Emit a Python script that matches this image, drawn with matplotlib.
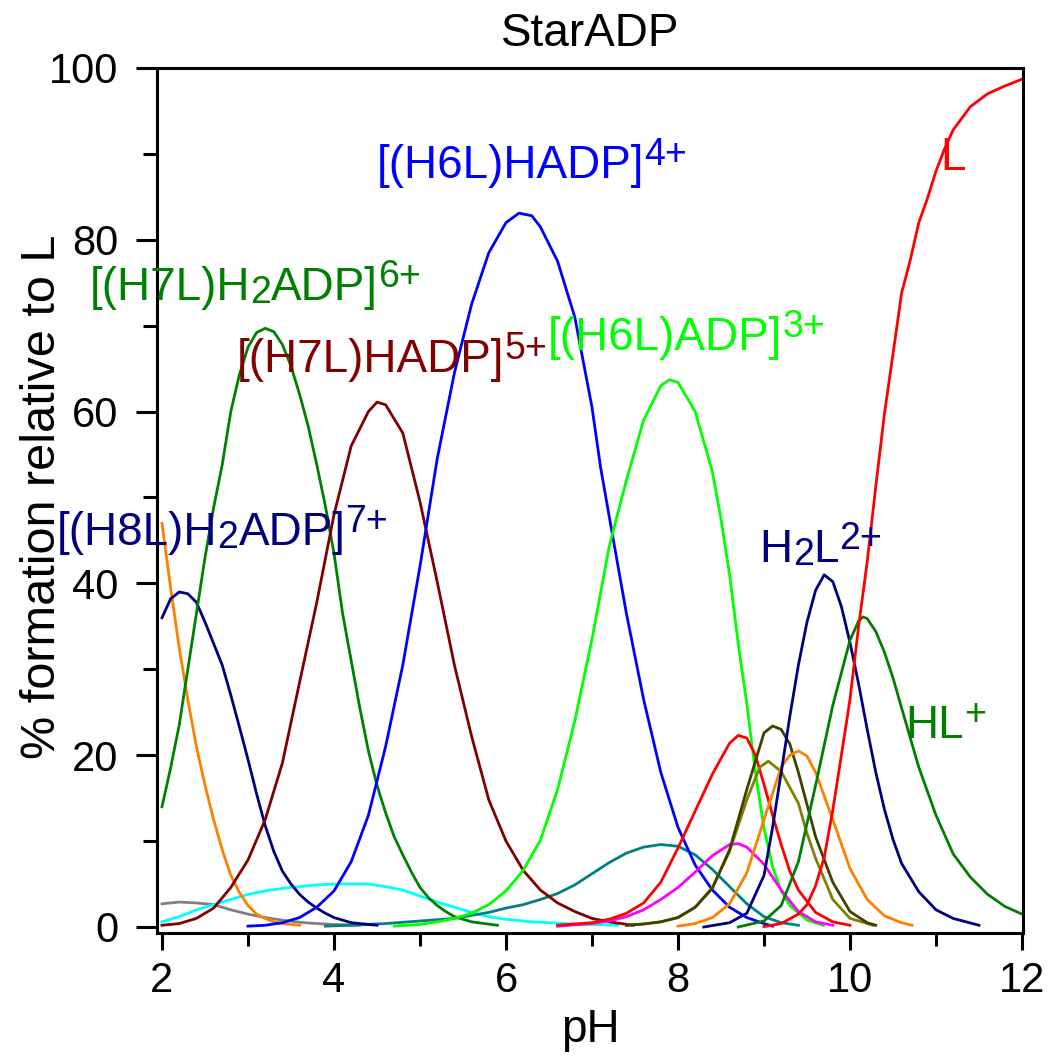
"""
StarADP species distribution — % formation relative to L vs pH
"""
import matplotlib
matplotlib.use('Agg')
import matplotlib.pyplot as plt
from matplotlib.ticker import MultipleLocator

plt.rcParams['font.family'] = ['Liberation Sans', 'DejaVu Sans']

# Species curves: pH, % formation
ph_orange1 = [2.0, 2.1, 2.2, 2.3, 2.4, 2.5, 2.6, 2.7, 2.8, 2.9, 3.0, 3.1, 3.2, 3.3, 3.4, 3.5, 3.6]
pct_orange1 = [47, 39.5, 32.5, 26.5, 21, 16.5, 12.5, 9, 6, 4, 2.5, 1.5, 1.0, 0.6, 0.4, 0.3, 0.2]

ph_navy1 = [2.0, 2.1, 2.2, 2.3, 2.4, 2.5, 2.6, 2.7, 2.8, 2.9, 3.0, 3.1, 3.2, 3.3, 3.4, 3.5,
            3.6, 3.7, 3.8, 3.9, 4.0, 4.2, 4.5]
pct_navy1 = [36, 38.2, 39, 38.8, 37.8, 35.5, 33, 30.5, 27, 23.3, 19.5, 15.5, 11.8, 8.8, 6.5, 5,
             3.8, 2.9, 2.2, 1.6, 1.1, 0.5, 0.2]

ph_green1 = [2.0, 2.1, 2.2, 2.3, 2.4, 2.5, 2.6, 2.7, 2.8, 2.9, 3.0, 3.1, 3.2, 3.3, 3.4, 3.5,
             3.6, 3.7, 3.8, 3.9, 4.0, 4.1, 4.2, 4.3, 4.4, 4.5, 4.6, 4.7, 4.8, 4.9, 5.0, 5.1,
             5.2, 5.3, 5.4, 5.6, 5.9]
pct_green1 = [14, 18.5, 23.5, 30, 36.5, 43, 48.8, 53.8, 60, 64.3, 67.5, 69.2, 69.7, 69.3, 67.8, 65.3,
              62, 58.3, 53.8, 49, 43.5, 36.5, 31, 25.5, 20.5, 16.5, 13.3, 10.5, 8.4, 6.4, 4.6, 3.4,
              2.5, 1.8, 1.2, 0.6, 0.2]

ph_gray = [2.0, 2.2, 2.4, 2.6, 2.8, 3.0, 3.2, 3.4, 3.6, 3.8, 4.0, 4.3]
pct_gray = [2.7, 2.9, 2.8, 2.6, 2.0, 1.5, 1.1, 0.8, 0.55, 0.4, 0.3, 0.2]

ph_cyan = [2.0, 2.2, 2.4, 2.6, 2.8, 3.0, 3.2, 3.4, 3.6, 3.8, 4.0, 4.2, 4.4, 4.6, 4.8, 5.0,
           5.2, 5.4, 5.6, 5.8, 6.0, 6.3, 6.8, 7.3]
pct_cyan = [0.6, 1.2, 2.0, 2.6, 3.2, 3.8, 4.2, 4.5, 4.7, 4.9, 5.0, 5.0, 5.0, 4.7, 4.3, 3.6,
            2.9, 2.3, 1.7, 1.2, 0.9, 0.6, 0.35, 0.2]

ph_maroon = [2.0, 2.2, 2.4, 2.6, 2.8, 3.0, 3.2, 3.4, 3.6, 3.8, 4.0, 4.2, 4.4, 4.5, 4.6, 4.8,
             5.0, 5.2, 5.4, 5.6, 5.8, 6.0, 6.2, 6.4, 6.6, 6.8, 7.0, 7.2, 7.48]
pct_maroon = [0.2, 0.4, 1.0, 2.2, 4.6, 7.8, 12.5, 19.1, 28.5, 37.8, 48, 56, 60, 61.1, 60.8, 57.5,
              49.5, 40.2, 30.5, 22.2, 14.8, 10, 6.6, 4.3, 2.8, 1.8, 1.0, 0.6, 0.2]

ph_blue = [3.0, 3.2, 3.4, 3.6, 3.8, 4.0, 4.2, 4.4, 4.6, 4.8, 5.0, 5.2, 5.4, 5.6, 5.8, 6.0,
           6.15, 6.3, 6.4, 6.6, 6.8, 7.0, 7.1, 7.2, 7.4, 7.6, 7.8, 8.0, 8.2, 8.4, 8.6, 8.8,
           9.0, 9.1]
pct_blue = [0.1, 0.2, 0.5, 1.1, 2.3, 4.2, 7.6, 13, 21, 30.5, 42, 54.5, 64.5, 72.5, 78.5, 82,
            83.1, 82.8, 81.5, 77.5, 71, 60.5, 53.5, 47.8, 36.5, 26.5, 18, 11.6, 7.2, 4.3, 2.3, 1.1,
            0.4, 0.1]

ph_teal = [3.9, 4.2, 4.6, 5.0, 5.4, 5.8, 6.0, 6.2, 6.4, 6.6, 6.8, 7.0, 7.2, 7.4, 7.6, 7.8,
           8.0, 8.2, 8.4, 8.6, 8.8, 9.0, 9.2, 9.4]
pct_teal = [0.1, 0.2, 0.4, 0.7, 1.0, 1.7, 2.2, 2.6, 3.2, 3.9, 4.9, 6.2, 7.5, 8.6, 9.3, 9.6,
            9.4, 8.4, 6.7, 4.7, 2.7, 1.2, 0.5, 0.2]

ph_lime = [4.7, 5.0, 5.2, 5.4, 5.6, 5.8, 6.0, 6.2, 6.4, 6.6, 6.8, 7.0, 7.2, 7.4, 7.6, 7.8,
           7.9, 8.0, 8.2, 8.4, 8.5, 8.6, 8.7, 8.8, 8.9, 9.0, 9.1, 9.2, 9.3, 9.5, 9.69]
pct_lime = [0.1, 0.3, 0.6, 1.0, 1.6, 2.6, 4.2, 6.6, 10.1, 16, 24, 33.5, 44.3, 52, 59, 63,
            63.7, 63.4, 60, 53, 47.5, 41, 33, 26, 18, 11.5, 7, 4.2, 2.5, 0.8, 0.2]

ph_red1 = [6.6, 6.8, 7.0, 7.2, 7.4, 7.6, 7.8, 8.0, 8.2, 8.4, 8.6, 8.7, 8.8, 8.9, 9.0, 9.1,
           9.2, 9.3, 9.4, 9.6, 9.8, 10.0]
pct_red1 = [0.2, 0.35, 0.5, 0.9, 1.6, 2.8, 5.2, 9.2, 13.5, 17.8, 21.4, 22.3, 22.0, 20, 16.6, 13,
            9.6, 6.5, 4.3, 1.7, 0.6, 0.2]

ph_magenta = [6.6, 7.0, 7.2, 7.4, 7.6, 7.8, 8.0, 8.2, 8.4, 8.6, 8.7, 8.8, 9.0, 9.2, 9.4, 9.6, 9.8]
pct_magenta = [0.1, 0.4, 0.7, 1.2, 2.0, 3.2, 4.6, 6.4, 8.3, 9.6, 9.7, 9.3, 7.3, 4.3, 1.8, 0.6, 0.2]

ph_darkolive = [7.4, 7.6, 7.8, 8.0, 8.2, 8.4, 8.6, 8.8, 9.0, 9.1, 9.2, 9.3, 9.4, 9.6, 9.8, 10.0,
                10.2, 10.3]
pct_darkolive = [0.2, 0.35, 0.6, 1.1, 2.3, 4.5, 9.0, 16, 22.6, 23.4, 23.0, 21.3, 18, 10.5, 5.2, 1.8,
                 0.5, 0.2]

ph_olive = [7.4, 7.6, 7.8, 8.0, 8.2, 8.4, 8.6, 8.8, 8.95, 9.05, 9.2, 9.4, 9.5, 9.6, 9.8, 10.0, 10.27]
pct_olive = [0.2, 0.35, 0.6, 1.1, 2.3, 4.6, 8.8, 14.8, 18.6, 19.3, 18.1, 14.4, 10.9, 8, 3.2, 1.0, 0.2]

ph_orange2 = [8.0, 8.2, 8.4, 8.6, 8.8, 9.0, 9.2, 9.3, 9.4, 9.5, 9.6, 9.8, 10.0, 10.2, 10.4, 10.6, 10.72]
pct_orange2 = [0.1, 0.4, 1.1, 2.7, 6.3, 12.5, 18.6, 20.0, 20.5, 19.9, 18, 12.5, 6.8, 3.2, 1.3, 0.5, 0.2]

ph_navy2 = [8.3, 8.6, 8.8, 9.0, 9.1, 9.2, 9.3, 9.4, 9.5, 9.6, 9.7, 9.8, 9.9, 10.0, 10.1, 10.2,
            10.3, 10.4, 10.5, 10.6, 10.8, 11.0, 11.2, 11.5]
pct_navy2 = [0.0, 0.5, 1.6, 6.0, 11.6, 18, 24.5, 30.5, 35.5, 39.2, 41.0, 40.2, 37.3, 33.1, 28.3, 23,
             18, 13.7, 10.2, 7.4, 4.1, 2.0, 1.0, 0.2]

ph_green2 = [8.7, 9.0, 9.2, 9.4, 9.6, 9.8, 10.0, 10.1, 10.15, 10.2, 10.3, 10.4, 10.5, 10.6, 10.8,
             11.0, 11.2, 11.4, 11.6, 11.8, 12.0]
pct_green2 = [0.0, 0.7, 2.5, 7.6, 16.5, 25.8, 33.4, 35.6, 36.1, 35.9, 34.4, 32, 29, 25.5, 18.6,
              13, 8.5, 5.8, 3.8, 2.4, 1.5]

ph_red2 = [9.0, 9.2, 9.4, 9.5, 9.6, 9.7, 9.8, 9.9, 10.0, 10.1, 10.2, 10.3, 10.4, 10.5, 10.6, 10.7,
           10.8, 10.9, 11.0, 11.1, 11.2, 11.4, 11.6, 11.8, 12.0]
pct_red2 = [0.05, 0.4, 1.5, 2.6, 4.8, 8.1, 13.6, 20, 26.5, 35, 42.5, 51.3, 59.7, 66.7, 73.8, 77.6,
            82, 84.8, 88.0, 90.6, 92.8, 95.5, 97, 97.9, 98.7]

curves = [
    (ph_gray, pct_gray, '#808080'),
    (ph_cyan, pct_cyan, '#00FFFF'),
    (ph_teal, pct_teal, '#008080'),
    (ph_orange1, pct_orange1, '#FF8000'),
    (ph_navy1, pct_navy1, '#000080'),
    (ph_green1, pct_green1, '#008000'),
    (ph_maroon, pct_maroon, '#800000'),
    (ph_blue, pct_blue, '#0000FF'),
    (ph_lime, pct_lime, '#00FF00'),
    (ph_magenta, pct_magenta, '#FF00FF'),
    (ph_red1, pct_red1, '#FF0000'),
    (ph_olive, pct_olive, '#808000'),
    (ph_darkolive, pct_darkolive, '#404000'),
    (ph_orange2, pct_orange2, '#FF8000'),
    (ph_navy2, pct_navy2, '#000080'),
    (ph_green2, pct_green2, '#008000'),
    (ph_red2, pct_red2, '#FF0000'),
]

# Species labels: pieces (text, 'n'/'sub'/'sup'), pH, %, colour
labels = [
    ([('[(H6L)HADP]', 'n'), ('4+', 'sup')], 4.50, 87.2, '#0000FF'),
    ([('[(H7L)H', 'n'), ('2', 'sub'), ('ADP]', 'n'), ('6+', 'sup')], 1.16, 73.0, '#008000'),
    ([('[(H7L)HADP]', 'n'), ('5+', 'sup')], 2.87, 64.6, '#800000'),
    ([('[(H6L)ADP]', 'n'), ('3+', 'sup')], 6.49, 67.2, '#00FF00'),
    ([('[(H8L)H', 'n'), ('2', 'sub'), ('ADP]', 'n'), ('7+', 'sup')], 0.78, 44.5, '#000080'),
    ([('H', 'n'), ('2', 'sub'), ('L', 'n'), ('2+', 'sup')], 8.95, 42.5, '#000080'),
    ([('HL', 'n'), ('+', 'sup')], 10.64, 22.0, '#008000'),
    ([('L', 'n')], 11.05, 88.1, '#FF0000'),
]

W, H = 1058, 1063
fig = plt.figure(figsize=(W / 100, H / 100), dpi=100)
ax = fig.add_axes([157 / W, 130 / H, 866 / W, 865 / H])

for x, y, c in curves:
    ax.plot(x, y, color=c, lw=2.0, solid_joinstyle='round')

ax.set_xlim(2 - 5 / 86, 12 + 1 / 86)
ax.set_ylim(-6 / 8.59, 100)
ax.xaxis.set_major_locator(MultipleLocator(2))
ax.xaxis.set_minor_locator(MultipleLocator(1))
ax.yaxis.set_major_locator(MultipleLocator(20))
ax.yaxis.set_minor_locator(MultipleLocator(10))

for s in ax.spines.values():
    s.set_linewidth(2.2)
ax.tick_params(axis='y', which='major', length=15, width=2.2, pad=13, labelsize=30)
ax.tick_params(axis='y', which='minor', length=10, width=2.2)
ax.tick_params(axis='x', which='major', length=12, width=2.2, pad=8, labelsize=30)
ax.tick_params(axis='x', which='minor', length=9, width=2.2)

ax.set_title('StarADP', fontsize=33, pad=16)
ax.set_xlabel('pH', fontsize=33)
ax.set_ylabel('% formation relative to L', fontsize=35)
ax.xaxis.set_label_coords(0.5, -0.087)
ax.yaxis.set_label_coords(-0.106, 0.504)

# labels with sub/superscripts built piece by piece (offsets in pixels)
renderer = fig.canvas.get_renderer()
sizes = {'n': 33, 'sub': 27, 'sup': 27}
shifts = {'n': 0, 'sub': -3, 'sup': 13}
for pieces, x, y, c in labels:
    dx = 0
    for txt, kind in pieces:
        t = ax.annotate(txt, xy=(x, y), xytext=(dx, shifts[kind]), textcoords='offset pixels',
                        color=c, fontsize=sizes[kind], ha='left', va='baseline',
                        annotation_clip=False)
        dx += t.get_window_extent(renderer).width

fig.savefig('out.png', dpi=100)
